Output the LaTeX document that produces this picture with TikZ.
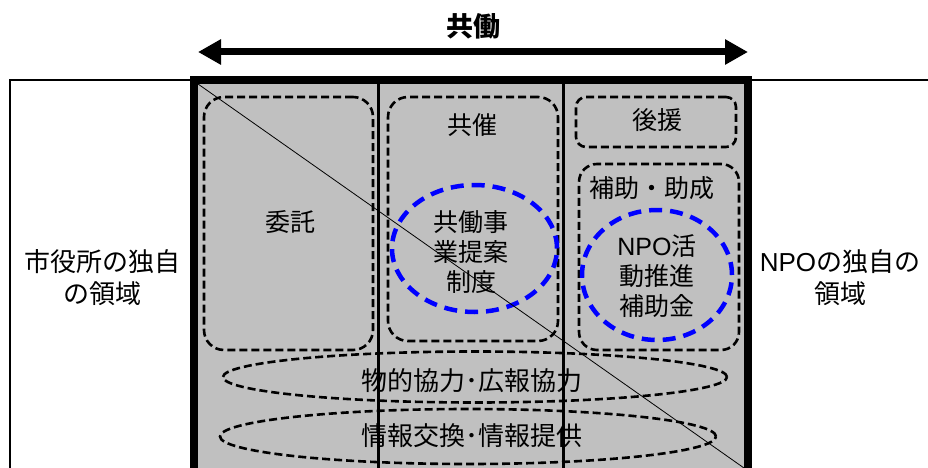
\documentclass[tikz,border=0pt]{standalone}
\usepackage{fontspec}
\setmainfont{Noto Sans CJK JP}
\newfontfamily\lat{Liberation Sans}
\usetikzlibrary{arrows.meta,shapes.geometric}
\definecolor{panelgray}{RGB}{192,192,192}
\definecolor{dblue}{RGB}{0,0,255}
\tikzset{
  txt/.style={inner sep=0pt, align=center, font=\fontsize{25}{30}\selectfont},
  sidetxt/.style={inner sep=0pt, align=center, font=\fontsize{26}{32}\selectfont},
  dbox/.style={draw=black, line width=2.6pt, dash pattern=on 8pt off 4pt, inner sep=0pt},
  dell/.style={ellipse, draw=black, line width=2.6pt, dash pattern=on 8pt off 4pt, inner sep=0pt},
  bell/.style={ellipse, draw=dblue, line width=4.5pt, dash pattern=on 13pt off 8pt, inner sep=0pt},
}
\begin{document}
\begin{tikzpicture}[x=1pt,y=-1pt]
\useasboundingbox (0,0) rectangle (928,468);
\clip (0,0) rectangle (928,468);
% outer thin frame
\draw[line width=1.5pt] (10,520) -- (10,80) -- (940,80);
% central gray panel
\coordinate (pTL) at (194,80);
\coordinate (pBR) at (748,472);
\fill[panelgray] (pTL) rectangle (pBR);
% dashed boxes
\node[dbox, rounded corners=20pt, minimum width=169pt, minimum height=253pt] (itakubox) at (288.5,223.5) {};
\node[dbox, rounded corners=20pt, minimum width=170pt, minimum height=244pt] (kyosaibox) at (473,219) {};
\node[dbox, rounded corners=10pt, minimum width=160pt, minimum height=50pt] (koenbox) at (656,122) {};
\node[dbox, rounded corners=18pt, minimum width=160pt, minimum height=186pt] (hojobox) at (659,257) {};
\node[dell, minimum width=504pt, minimum height=51pt] (butsuell) at (475,377) {};
\node[dell, minimum width=496pt, minimum height=55pt] (johoell) at (468,436.5) {};
\node[bell, minimum width=165pt, minimum height=127pt] (kyodoell) at (474.5,248.5) {};
\node[bell, minimum width=150pt, minimum height=130pt] (npoell) at (657,275) {};
% diagonal
\coordinate (dA) at (198,84);
\coordinate (dB) at (744,468);
\draw[line width=0.8pt] (dA) -- (dB);
% verticals
\coordinate (v1t) at (378,80);
\coordinate (v1b) at (378,472);
\coordinate (v2t) at (563,80);
\coordinate (v2b) at (563,472);
\draw[line width=3pt] (v1t) -- (v1b);
\draw[line width=3pt] (v2t) -- (v2b);
\draw[line width=8pt] (pTL) rectangle (pBR);
% arrow
\coordinate (aL) at (198,52);
\coordinate (aR) at (748,52);
\draw[line width=7pt, {Triangle[length=23pt,width=24pt]}-{Triangle[length=23pt,width=24pt]}] (aL) -- (aR);
\node[inner sep=0pt, font=\fontsize{27}{30}\selectfont\bfseries] (title) at (473,26) {共働};
% texts
\node[sidetxt] (city) at (102,278) {市役所の独自\\の領域};
\node[sidetxt] (npoown) at (840,278) {{\lat NPO}の独自の\\領域};
\node[txt] (itaku) at (290,222) {委託};
\node[txt] (kyosai) at (472,125) {共催};
\node[txt] (koen) at (657,120) {後援};
\node[txt] (hojo) at (652,188) {補助・助成};
\node[txt] (kyodo) at (471,252) {共働事\\業提案\\制度};
\node[txt] (npo) at (657,276) {{\lat NPO}活\\動推進\\補助金};
\node[txt, font=\fontsize{26}{30}\selectfont] (butsu) at (472,381) {物的協力･広報協力};
\node[txt, font=\fontsize{26}{30}\selectfont] (joho) at (472,436) {情報交換･情報提供};
\end{tikzpicture}
\end{document}
